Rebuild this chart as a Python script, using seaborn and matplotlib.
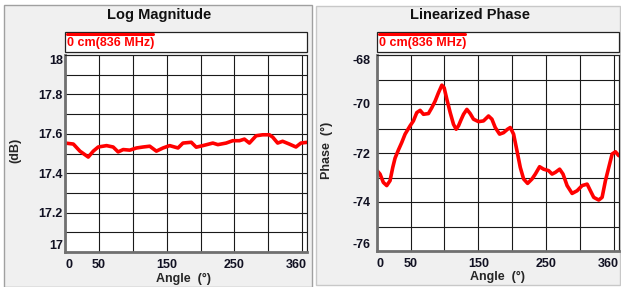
import pandas as pd
import matplotlib
matplotlib.use('Agg')
import matplotlib.pyplot as plt
import seaborn as sns
from matplotlib.patches import Rectangle
from matplotlib.lines import Line2D

# %% podaci ocitani sa slike

mag_angle = [0, 12.3, 22, 34.3, 41.7, 49, 61.3, 71, 78.4, 85.8, 95.6, 105.4, 115.2,
             125, 134.8, 144.6, 154.4, 166.7, 174, 186.3, 193.6, 203.4, 218.1, 225.5,
             237.7, 247.5, 257.4, 264.7, 272, 281.9, 291.7, 301.5, 306.4, 313.7, 321,
             330.9, 340.7, 348, 357.8]
mag_db = [17.553, 17.548, 17.512, 17.482, 17.512, 17.533, 17.54, 17.533, 17.508, 17.52,
          17.517, 17.528, 17.533, 17.537, 17.512, 17.528, 17.54, 17.528, 17.553, 17.557,
          17.532, 17.54, 17.553, 17.545, 17.553, 17.565, 17.565, 17.573, 17.553, 17.59,
          17.595, 17.595, 17.583, 17.553, 17.562, 17.548, 17.533, 17.553, 17.557]

ph_angle = [0, 4.9, 9.8, 14.8, 19.7, 23.7, 27.1, 32, 37, 41.9, 49.3, 54.2, 59.2, 64.1,
            69, 76.4, 81.4, 86.3, 91.2, 96.2, 99.6, 103.6, 108.5, 113.4, 117.3, 120.8,
            124.3, 128.2, 133.1, 138, 142.9, 150.3, 157.7, 165.1, 170.1, 175, 181.4,
            187.3, 193.2, 197.2, 202.1, 207.1, 212, 216.9, 222.8, 229.3, 234.2, 240.5,
            246.4, 253.8, 258.9, 263.8, 270.1, 275.1, 281.1, 288.5, 295.9, 303.3, 310.7,
            315.5, 320.4, 327.8, 332.8, 337.7, 342.6, 347.6, 352.5, 357.4]
ph_deg = [-72.70, -72.86, -73.20, -73.33, -73.13, -72.59, -72.21, -71.88, -71.57, -71.23,
          -70.89, -70.69, -70.35, -70.26, -70.42, -70.39, -70.15, -69.88, -69.54, -69.23,
          -69.34, -69.81, -70.35, -70.83, -71.03, -70.89, -70.66, -70.42, -70.22, -70.39,
          -70.62, -70.72, -70.69, -70.49, -70.62, -70.96, -71.23, -71.17, -71.03, -70.96,
          -71.23, -71.91, -72.59, -73.06, -73.24, -73.06, -72.86, -72.56, -72.66, -72.72,
          -72.86, -72.79, -72.66, -72.86, -73.33, -73.65, -73.54, -73.33, -73.27, -73.54,
          -73.81, -73.92, -73.81, -73.13, -72.59, -72.04, -71.95, -72.11]

x_labels = ['0', '50', '150', '250', '360']
legenda = '0 cm(836 MHz)'

df_mag = pd.DataFrame({'angle': mag_angle, 'val': mag_db})
df_ph = pd.DataFrame({'angle': ph_angle, 'val': ph_deg})

# %% crtanje

sns.set_style('white')
plt.rcParams['font.family'] = ['Liberation Sans', 'DejaVu Sans']
plt.rcParams['font.weight'] = 'bold'

W, H = 621, 287
fig = plt.figure(figsize=(W / 100, H / 100), dpi=100, facecolor='white')

def fx(px):
    return px / W

def fy(py):
    return 1 - py / H

# sive pozadine panela (ispod osa)
fig.patches.append(Rectangle((fx(4), fy(287)), fx(308), 282 / H, transform=fig.transFigure,
                             facecolor='#F0F0F0', edgecolor='#A0A0A0', lw=1, zorder=-10))
fig.patches.append(Rectangle((fx(316), fy(285)), fx(304), 279 / H, transform=fig.transFigure,
                             facecolor='#F0F0F0', edgecolor='#C8C8C8', lw=1, zorder=-10))

panels = [
    dict(df=df_mag, box=(65, 307, 55, 252), title='Log Magnitude', tcx=159,
         ylim=(17, 18), major=[17, 17.2, 17.4, 17.6, 17.8, 18],
         minor=[17.1, 17.3, 17.5, 17.7, 17.9], ylab='(dB)', ypad=1.5,
         ylabels=['17', '17.2', '17.4', '17.6', '17.8', '18'], xlab_x=0.488),
    dict(df=df_ph, box=(376.7, 618.5, 55, 251), title='Linearized Phase', tcx=470,
         ylim=(-76, -68), major=[-76, -74, -72, -70, -68],
         minor=[-75, -73, -71, -69], ylab='Phase  (°)', ypad=4.5,
         ylabels=['-76', '-74', '-72', '-70', '-68'], xlab_x=0.5),
]

for p in panels:
    x0, x1, y0, y1 = p['box']
    ax = fig.add_axes([fx(x0), fy(y1), fx(x1 - x0), (y1 - y0) / H])
    ax.set_facecolor('white')
    sns.lineplot(data=p['df'], x='angle', y='val', color='#FF0000', lw=2.6, ax=ax)
    ax.set_xlim(0, 357)
    ax.set_ylim(*p['ylim'])

    ax.set_xticks([0, 50, 150, 250, 357])
    ax.set_xticklabels(x_labels)
    ax.set_xticks([100, 200, 300, 350], minor=True)
    ax.set_yticks(p['major'])
    ax.set_yticklabels(p['ylabels'])
    ax.set_yticks(p['minor'], minor=True)
    ax.grid(True, which='both', color='#1a1a1a', lw=0.8)
    ax.tick_params(which='both', length=0, labelsize=9, colors='#111122')
    ax.tick_params(axis='x', pad=5)
    ax.tick_params(axis='y', pad=p['ypad'])
    for lbl in ax.get_xticklabels() + ax.get_yticklabels():
        lbl.set_fontweight('bold')
    xl = ax.get_xticklabels()
    xl[0].set_ha('left')
    xl[-1].set_ha('right')
    yl = ax.get_yticklabels()
    yl[0].set_va('bottom')
    yl[-1].set_va('top')

    for s in ['left', 'bottom']:
        ax.spines[s].set_color('#707070')
        ax.spines[s].set_linewidth(2)
    for s in ['top', 'right']:
        ax.spines[s].set_color('#202020')
        ax.spines[s].set_linewidth(0.8)

    ax.set_xlabel('Angle  (°)', fontsize=9, fontweight='bold', va='center')
    ax.xaxis.set_label_coords(p['xlab_x'], -0.135)
    ax.set_ylabel(p['ylab'], fontsize=9, fontweight='bold', va='center')
    ax.yaxis.set_label_coords(-0.206, 0.515)

    fig.text(fx(p['tcx']), fy(15), p['title'], ha='center', va='center',
             fontsize=10.5, fontweight='bold', color='#111111')

    # okvir legende
    fig.patches.append(Rectangle((fx(x0), fy(52)), fx(x1 - x0), 20 / H,
                                 transform=fig.transFigure, facecolor='white',
                                 edgecolor='#222222', lw=0.9, zorder=2))
    fig.lines.append(Line2D([fx(x0 + 2), fx(x0 + 88)], [fy(33.5), fy(33.5)],
                            transform=fig.transFigure, color='#FF0000', lw=2.2, zorder=3))
    fig.text(fx(x0 + 2), fy(43), legenda, ha='left', va='center', fontsize=9,
             fontweight='bold', color='#FF0000', zorder=4)

plt.savefig('out.png', dpi=100, facecolor='white')
